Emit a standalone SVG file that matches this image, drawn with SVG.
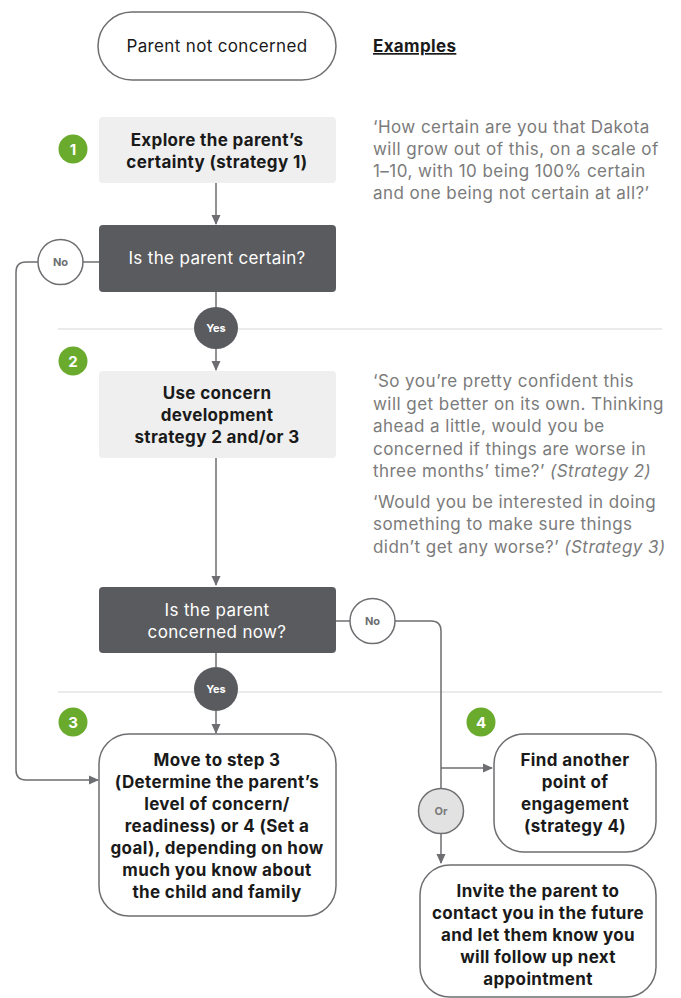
<svg xmlns="http://www.w3.org/2000/svg" width="681" height="998" viewBox="0 0 681 998">
<defs>
<marker id="ah" markerWidth="10" markerHeight="10" refX="9" refY="5" orient="auto" markerUnits="userSpaceOnUse">
<path d="M0,0.5 L10,5 L0,9.5 Z" fill="#6d6e71"/>
</marker>
<style>
text{font-family:Inter,"Liberation Sans",Arial,sans-serif;font-size:17px;letter-spacing:0.35px;text-anchor:middle;}
.b{font-weight:700;fill:#1a1a1a;}
.n{fill:#1a1a1a;}
.w{fill:#ffffff;}
.ex{fill:#7b7b7b;text-anchor:start;letter-spacing:0.45px;}
.i{font-style:italic;}
.lbl{font-size:11px;font-weight:700;letter-spacing:0;}
.light{fill:#efefef;}
.dark{fill:#5a5b5e;}
.outline{fill:#ffffff;stroke:#6d6e71;stroke-width:1.5;}
.con{fill:none;stroke:#6d6e71;stroke-width:1.5;}
.sep{stroke:#e4e4e4;stroke-width:1.5;}
.badge{fill:#6aab2e;}
.bt{fill:#ffffff;font-weight:700;font-size:15px;letter-spacing:0;}
</style>
</defs>

<line class="sep" x1="58" y1="329" x2="662" y2="329"/>
<line class="sep" x1="58" y1="692" x2="662" y2="692"/>

<g id="connectors">
<line class="con" x1="216" y1="183" x2="216" y2="224" marker-end="url(#ah)"/>
<line class="con" x1="216" y1="292" x2="216" y2="307"/>
<line class="con" x1="216" y1="349" x2="216" y2="370" marker-end="url(#ah)"/>
<line class="con" x1="99" y1="262" x2="83" y2="262"/>
<path class="con" d="M38,262 H26 Q16,262 16,272 V770 Q16,780 26,780 H98" marker-end="url(#ah)"/>
<line class="con" x1="216" y1="458" x2="216" y2="585" marker-end="url(#ah)"/>
<line class="con" x1="216" y1="653" x2="216" y2="667"/>
<line class="con" x1="216" y1="711" x2="216" y2="733" marker-end="url(#ah)"/>
<line class="con" x1="336" y1="621" x2="350" y2="621"/>
<path class="con" d="M395,621 H431 Q441,621 441,631 V788.5"/>
<line class="con" x1="441" y1="768" x2="492" y2="768" marker-end="url(#ah)"/>
<line class="con" x1="441" y1="833.5" x2="441" y2="863" marker-end="url(#ah)"/>
</g>

<g id="start">
<rect class="outline" x="98" y="12" width="238" height="68" rx="34"/>
<text class="n" x="217" y="52">Parent not concerned</text>
</g>

<g id="examples-heading">
<text class="b" x="373" y="52" style="text-anchor:start;text-decoration:underline;">Examples</text>
</g>

<g id="badge1"><circle class="badge" cx="73" cy="149" r="14.5"/><text class="bt" x="73" y="154.5">1</text></g>
<g id="badge2"><circle class="badge" cx="73" cy="361" r="14.5"/><text class="bt" x="73" y="366.5">2</text></g>
<g id="badge3"><circle class="badge" cx="73" cy="722" r="14.5"/><text class="bt" x="73" y="727.5">3</text></g>
<g id="badge4"><circle class="badge" cx="481" cy="722" r="14.5"/><text class="bt" x="481" y="727.5">4</text></g>

<g id="step1">
<rect class="light" x="99" y="117" width="237" height="66" rx="4"/>
<text class="b" x="217" y="146">Explore the parent’s</text>
<text class="b" x="217" y="168">certainty (strategy 1)</text>
</g>

<g id="example1">
<text class="ex" x="373" y="133">‘How certain are you that Dakota</text>
<text class="ex" x="373" y="155">will grow out of this, on a scale of</text>
<text class="ex" x="373" y="177">1–10, with 10 being 100% certain</text>
<text class="ex" x="373" y="199">and one being not certain at all?’</text>
</g>

<g id="decision1">
<rect class="dark" x="99" y="225" width="237" height="67" rx="4"/>
<text class="w" x="217" y="264">Is the parent certain?</text>
</g>

<g id="no1">
<circle class="outline" cx="60.5" cy="262" r="22.5"/>
<text class="lbl" x="60.5" y="266" fill="#6d6e71">No</text>
</g>

<g id="yes1">
<ellipse class="dark" cx="216" cy="328" rx="22" ry="21"/>
<text class="lbl w" x="216" y="332">Yes</text>
</g>

<g id="step2">
<rect class="light" x="99" y="371" width="237" height="87" rx="4"/>
<text class="b" x="217" y="399">Use concern</text>
<text class="b" x="217" y="421">development</text>
<text class="b" x="217" y="443">strategy 2 and/or 3</text>
</g>

<g id="example2">
<text class="ex" x="373" y="387">‘So you’re pretty confident this</text>
<text class="ex" x="373" y="410">will get better on its own. Thinking</text>
<text class="ex" x="373" y="432">ahead a little, would you be</text>
<text class="ex" x="373" y="455">concerned if things are worse in</text>
<text class="ex" x="373" y="477">three months’ time?’ <tspan class="i">(Strategy 2)</tspan></text>
<text class="ex" x="373" y="508">‘Would you be interested in doing</text>
<text class="ex" x="373" y="530">something to make sure things</text>
<text class="ex" x="373" y="553">didn’t get any worse?’ <tspan class="i">(Strategy 3)</tspan></text>
</g>

<g id="decision2">
<rect class="dark" x="99" y="587" width="237" height="66" rx="4"/>
<text class="w" x="217" y="616">Is the parent</text>
<text class="w" x="217" y="638">concerned now?</text>
</g>

<g id="no2">
<circle class="outline" cx="372.5" cy="621" r="22.5"/>
<text class="lbl" x="372.5" y="625" fill="#6d6e71">No</text>
</g>

<g id="yes2">
<ellipse class="dark" cx="216" cy="689" rx="22" ry="22"/>
<text class="lbl w" x="216" y="693">Yes</text>
</g>

<g id="step3">
<rect class="outline" x="99" y="734" width="237" height="182" rx="30"/>
<text class="b" x="217" y="766">Move to step 3</text>
<text class="b" x="217" y="788">(Determine the parent’s</text>
<text class="b" x="217" y="810">level of concern/</text>
<text class="b" x="217" y="832">readiness) or 4 (Set a</text>
<text class="b" x="217" y="854">goal), depending on how</text>
<text class="b" x="217" y="876">much you know about</text>
<text class="b" x="217" y="898">the child and family</text>
</g>

<g id="step4">
<rect class="outline" x="494" y="734" width="162" height="118" rx="30"/>
<text class="b" x="575" y="766">Find another</text>
<text class="b" x="575" y="788">point of</text>
<text class="b" x="575" y="810">engagement</text>
<text class="b" x="575" y="832">(strategy 4)</text>
</g>

<g id="or">
<ellipse cx="441" cy="811" rx="22.5" ry="22.5" fill="#e2e2e2" stroke="#6d6e71" stroke-width="1.5"/>
<text class="lbl" x="441" y="815" fill="#7b7b7b">Or</text>
</g>

<g id="invite">
<rect class="outline" x="420" y="865" width="236" height="132" rx="30"/>
<text class="b" x="538" y="897">Invite the parent to</text>
<text class="b" x="538" y="919">contact you in the future</text>
<text class="b" x="538" y="941">and let them know you</text>
<text class="b" x="538" y="963">will follow up next</text>
<text class="b" x="538" y="985">appointment</text>
</g>
</svg>
